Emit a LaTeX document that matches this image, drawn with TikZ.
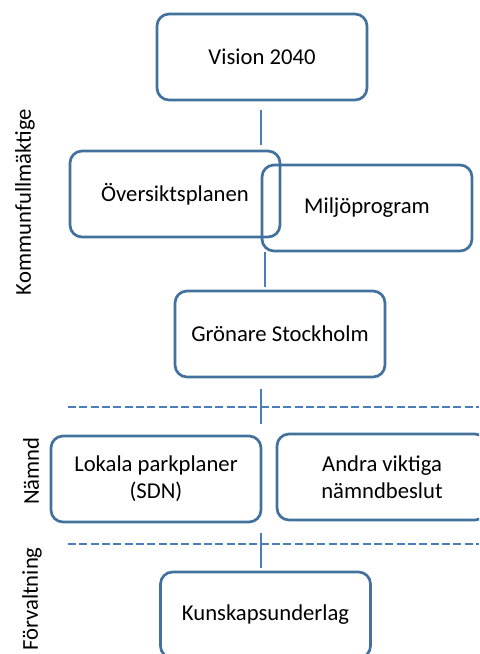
\documentclass[tikz,border=0pt]{standalone}
\usepackage{fontspec}
\setmainfont{Carlito}
\definecolor{boxblue}{HTML}{41719C}
\definecolor{lineblue}{HTML}{4A7EBB}
\begin{document}
\begin{tikzpicture}[x=0.75pt,y=-0.75pt,
  box/.style={draw=boxblue,line width=2pt,rounded corners=9pt,minimum width=157.5pt,minimum height=64.5pt,align=center,font=\fontsize{17}{20.5}\selectfont,inner sep=0pt},
  conn/.style={draw=lineblue,line width=2pt},
  sep/.style={draw=lineblue,line width=1.6pt,dash pattern=on 6pt off 2.5pt},
  side/.style={rotate=90,font=\fontsize{17}{20.5}\selectfont,inner sep=0pt}]
\useasboundingbox (0,0) rectangle (479,654);
\begin{scope}
\clip (0,0) rectangle (479,654);
\node[box] (vision) at (262,57) {Vision 2040};
\node[box] (oversikt) at (175,194) {Översiktsplanen};
\node[box] (miljo) at (367,208) {\raisebox{-2pt}{Miljöprogram}};
\node[box] (gron) at (280,334) {\raisebox{-2pt}{Grönare Stockholm}};
\node[box] (lokala) at (156,479) {Lokala parkplaner\\(SDN)};
\node[box] (andra) at (382,477) {Andra viktiga\\nämndbeslut};
\node[box] (kunskap) at (265.5,615) {Kunskapsunderlag};

\node[side] (kf) at (25,202) {Kommunfullmäktige};
\node[side] (namnd) at (31,471) {Nämnd};
\node[side] (forv) at (32,599) {Förvaltning};

\coordinate (d1a) at (68,407);
\coordinate (d1b) at (479,407);
\coordinate (d2a) at (68,544);
\coordinate (d2b) at (479,544);
\draw[sep] (d1a) -- (d1b);
\draw[sep] (d2a) -- (d2b);

\coordinate (c1a) at (261,110);
\coordinate (c1b) at (261,145);
\coordinate (c2a) at (265,252);
\coordinate (c2b) at (265,287);
\coordinate (c3a) at (261,389);
\coordinate (c3b) at (261,424);
\coordinate (c4a) at (261,533);
\coordinate (c4b) at (261,568);
\draw[conn] (c1a) -- (c1b);
\draw[conn] (c2a) -- (c2b);
\draw[conn] (c3a) -- (c3b);
\draw[conn] (c4a) -- (c4b);
\end{scope}
\end{tikzpicture}
\end{document}
